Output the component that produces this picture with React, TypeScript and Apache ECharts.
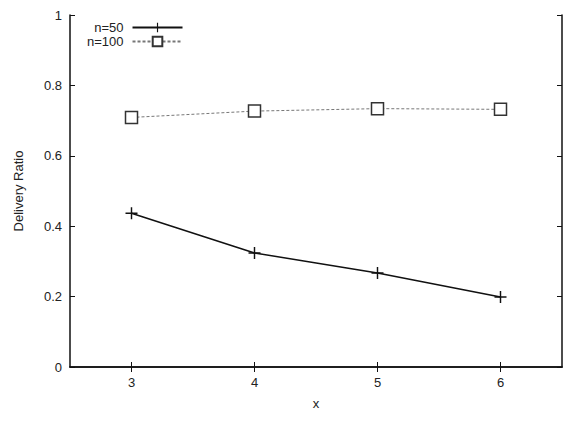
import React, { useEffect, useRef } from "react";
import * as echarts from "echarts";

const xValues = [3, 4, 5, 6];
const n50Values = [0.437, 0.324, 0.267, 0.199];
const n100Values = [0.709, 0.727, 0.734, 0.732];
const xTicks = [3, 4, 5, 6];
const seriesNames = ["n=50", "n=100"];

const FONT = "Liberation Sans, Arial, Helvetica, sans-serif";
const FS = 13;
const TXT = "#222";
const PLUS = "path://M0,4.4h10v1.2h-10z M4.4,0h1.2v10h-1.2z";

export default function App() {
  const ref = useRef<HTMLDivElement>(null);
  useEffect(() => {
    if (!ref.current) return;
    const chart = echarts.init(ref.current, null, { renderer: "svg" });
    const axisLine = { show: true, lineStyle: { color: "#111", width: 1.5 } };
    const tick = { show: true, inside: true, length: 5, lineStyle: { color: "#111", width: 1 } };
    chart.setOption({
      animation: false,
      backgroundColor: "#fff",
      textStyle: { fontFamily: FONT },
      grid: { left: 70, right: 10, top: 15, bottom: 54, containLabel: false },
      legend: {
        show: true,
        orient: "vertical",
        left: 82,
        top: 16,
        align: "right",
        itemWidth: 50,
        itemHeight: 12,
        itemGap: 1,
        data: seriesNames,
        textStyle: {
          color: TXT,
          fontSize: FS,
          fontFamily: FONT,
          width: 42,
          align: "right",
          padding: [0, 4, 0, 0],
        },
      },
      xAxis: [
        {
          type: "value",
          min: 2.5,
          max: 6.5,
          position: "bottom",
          axisLine,
          axisTick: { ...tick, customValues: xTicks },
          axisLabel: { customValues: xTicks, color: TXT, fontSize: FS, margin: 9, fontFamily: FONT },
          splitLine: { show: false },
          name: "x",
          nameLocation: "middle",
          nameGap: 30,
          nameTextStyle: { color: TXT, fontSize: FS, fontFamily: FONT },
        },
        {
          type: "value",
          min: 2.5,
          max: 6.5,
          position: "top",
          axisLine,
          axisTick: { ...tick, customValues: xTicks },
          axisLabel: { show: false },
          splitLine: { show: false },
        },
      ],
      yAxis: [
        {
          type: "value",
          min: 0,
          max: 1,
          interval: 0.2,
          position: "left",
          axisLine,
          axisTick: tick,
          axisLabel: { color: TXT, fontSize: FS, margin: 8, fontFamily: FONT },
          splitLine: { show: false },
          name: "Delivery Ratio",
          nameLocation: "middle",
          nameGap: 45,
          nameTextStyle: { color: TXT, fontSize: FS, fontFamily: FONT },
        },
        {
          type: "value",
          min: 0,
          max: 1,
          interval: 0.2,
          position: "right",
          axisLine,
          axisTick: tick,
          axisLabel: { show: false },
          splitLine: { show: false },
        },
      ],
      series: [
        {
          name: seriesNames[0],
          type: "line",
          xAxisIndex: 0,
          yAxisIndex: 0,
          data: xValues.map((x, i) => [x, n50Values[i]]),
          symbol: PLUS,
          symbolSize: 12,
          lineStyle: { color: "#111", width: 1.5, type: "solid" },
          itemStyle: { color: "#111" },
        },
        {
          name: seriesNames[1],
          type: "line",
          xAxisIndex: 0,
          yAxisIndex: 0,
          data: xValues.map((x, i) => [x, n100Values[i]]),
          symbol: "rect",
          symbolSize: 12,
          lineStyle: { color: "#777", width: 1, type: [3, 2] },
          itemStyle: { color: "#fff", borderColor: "#333", borderWidth: 1.5 },
        },
      ],
    });
    return () => chart.dispose();
  }, []);
  return (
    <div
      ref={ref}
      style={{ position: "fixed", left: 0, top: 0, width: 572, height: 421 }}
    />
  );
}
